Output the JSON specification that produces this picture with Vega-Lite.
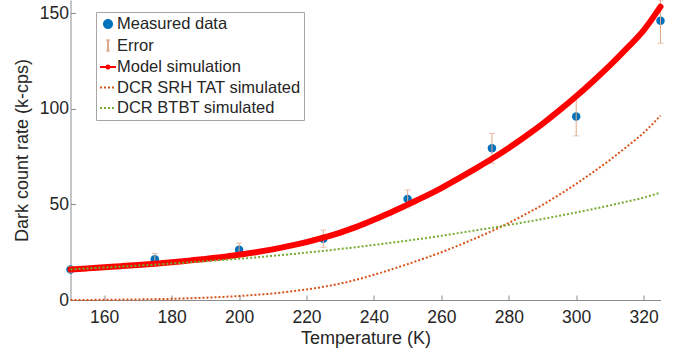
{
  "$schema": "https://vega.github.io/schema/vega-lite/v6.json",
  "width": 590,
  "height": 300,
  "autosize": {"type": "none"},
  "padding": {"left": 70.5, "top": 0, "right": 20.5, "bottom": 56},
  "background": "white",
  "config": {
    "view": {"stroke": null},
    "font": "Liberation Sans",
    "axis": {
      "domainColor": "#8c8c8c",
      "tickColor": "#8c8c8c",
      "labelColor": "#262626",
      "titleColor": "#262626",
      "labelFont": "Liberation Sans",
      "titleFont": "Liberation Sans",
      "labelFontSize": 17.5,
      "titleFontSize": 18,
      "titleFontWeight": "normal",
      "grid": false,
      "tickSize": -5,
      "domainWidth": 1,
      "tickWidth": 1
    }
  },
  "datasets": {
    "legendrows": [
      {"series": "Measured data"},
      {"series": "Error"},
      {"series": "Model simulation"},
      {"series": "DCR SRH TAT simulated"},
      {"series": "DCR BTBT simulated"}
    ],
    "measured": [
      {"T": 150, "value": 16.0, "lo": 14.5, "hi": 17.5},
      {"T": 175, "value": 21.3, "lo": 18.3, "hi": 24.3},
      {"T": 200, "value": 26.3, "lo": 22.8, "hi": 29.8},
      {"T": 225, "value": 32.1, "lo": 27.6, "hi": 36.6},
      {"T": 250, "value": 52.9, "lo": 48.2, "hi": 57.6},
      {"T": 275, "value": 79.4, "lo": 71.6, "hi": 87.2},
      {"T": 300, "value": 96.0, "lo": 85.9, "hi": 106.1},
      {"T": 325, "value": 146.2, "lo": 134.4, "hi": 157.0}
    ],
    "model": [
      {"T": 150, "value": 16.0}, {"T": 155, "value": 16.55}, {"T": 160, "value": 17.1},
      {"T": 165, "value": 17.7}, {"T": 170, "value": 18.3}, {"T": 175, "value": 18.95},
      {"T": 180, "value": 19.7}, {"T": 185, "value": 20.6}, {"T": 190, "value": 21.5},
      {"T": 195, "value": 22.5}, {"T": 200, "value": 23.7}, {"T": 205, "value": 25.0},
      {"T": 210, "value": 26.5}, {"T": 215, "value": 28.3}, {"T": 220, "value": 30.3},
      {"T": 225, "value": 32.6}, {"T": 230, "value": 35.3}, {"T": 235, "value": 38.4},
      {"T": 240, "value": 42.0}, {"T": 245, "value": 45.8}, {"T": 250, "value": 49.9},
      {"T": 255, "value": 54.1}, {"T": 260, "value": 58.6}, {"T": 265, "value": 63.5},
      {"T": 270, "value": 68.6}, {"T": 275, "value": 73.9}, {"T": 280, "value": 79.6},
      {"T": 285, "value": 85.7}, {"T": 290, "value": 92.2}, {"T": 295, "value": 99.2},
      {"T": 300, "value": 106.6}, {"T": 305, "value": 114.5}, {"T": 310, "value": 122.8},
      {"T": 315, "value": 131.7}, {"T": 320, "value": 141.1}, {"T": 325, "value": 153.5}
    ],
    "srh": [
      {"T": 150, "value": 0.0}, {"T": 155, "value": 0.05}, {"T": 160, "value": 0.1},
      {"T": 165, "value": 0.2}, {"T": 170, "value": 0.3}, {"T": 175, "value": 0.45},
      {"T": 180, "value": 0.6}, {"T": 185, "value": 0.9}, {"T": 190, "value": 1.2},
      {"T": 195, "value": 1.6}, {"T": 200, "value": 2.1}, {"T": 205, "value": 2.7},
      {"T": 210, "value": 3.4}, {"T": 215, "value": 4.4}, {"T": 220, "value": 5.5},
      {"T": 225, "value": 6.9}, {"T": 230, "value": 8.6}, {"T": 235, "value": 10.7},
      {"T": 240, "value": 13.2}, {"T": 245, "value": 15.9}, {"T": 250, "value": 18.8},
      {"T": 255, "value": 21.8}, {"T": 260, "value": 25.0}, {"T": 265, "value": 28.5},
      {"T": 270, "value": 32.2}, {"T": 275, "value": 36.1}, {"T": 280, "value": 40.3},
      {"T": 285, "value": 44.9}, {"T": 290, "value": 49.8}, {"T": 295, "value": 55.1},
      {"T": 300, "value": 60.8}, {"T": 305, "value": 66.9}, {"T": 310, "value": 73.3},
      {"T": 315, "value": 80.2}, {"T": 320, "value": 87.5}, {"T": 325, "value": 96.5}
    ],
    "btbt": [
      {"T": 150, "value": 16.0}, {"T": 155, "value": 16.5}, {"T": 160, "value": 17.0},
      {"T": 165, "value": 17.5}, {"T": 170, "value": 18.0}, {"T": 175, "value": 18.5},
      {"T": 180, "value": 19.1}, {"T": 185, "value": 19.7}, {"T": 190, "value": 20.3},
      {"T": 195, "value": 20.9}, {"T": 200, "value": 21.6}, {"T": 205, "value": 22.3},
      {"T": 210, "value": 23.1}, {"T": 215, "value": 23.9}, {"T": 220, "value": 24.8},
      {"T": 225, "value": 25.7}, {"T": 230, "value": 26.7}, {"T": 235, "value": 27.7},
      {"T": 240, "value": 28.8}, {"T": 245, "value": 29.9}, {"T": 250, "value": 31.1},
      {"T": 255, "value": 32.3}, {"T": 260, "value": 33.6}, {"T": 265, "value": 35.0},
      {"T": 270, "value": 36.4}, {"T": 275, "value": 37.8}, {"T": 280, "value": 39.3},
      {"T": 285, "value": 40.8}, {"T": 290, "value": 42.4}, {"T": 295, "value": 44.1},
      {"T": 300, "value": 45.8}, {"T": 305, "value": 47.6}, {"T": 310, "value": 49.5},
      {"T": 315, "value": 51.5}, {"T": 320, "value": 53.6}, {"T": 325, "value": 56.2}
    ]
  },
  "layer": [
    {
      "data": {"name": "measured"},
      "mark": {"type": "point", "filled": true, "size": 72, "opacity": 1, "color": "#0072BD"},
      "encoding": {
        "x": {
          "field": "T", "type": "quantitative",
          "scale": {"domain": [150, 325], "nice": false, "zero": false},
          "axis": {"values": [160, 180, 200, 220, 240, 260, 280, 300, 320], "title": "Temperature (K)", "labelPadding": 13, "titlePadding": 4}
        },
        "y": {
          "field": "value", "type": "quantitative",
          "scale": {"domain": [0, 157], "nice": false},
          "axis": {"values": [0, 50, 100, 150], "title": "Dark count rate (k-cps)", "labelPadding": 7, "titlePadding": 8}
        }
      }
    },
    {
      "data": {"name": "measured"},
      "mark": {"type": "errorbar", "color": "#DDA98C", "ticks": {"size": 6, "thickness": 1, "color": "#DDA98C"}, "rule": {"strokeWidth": 1, "color": "#DDA98C"}},
      "encoding": {
        "x": {"field": "T", "type": "quantitative"},
        "y": {"field": "lo", "type": "quantitative", "title": "Dark count rate (k-cps)"},
        "y2": {"field": "hi"}
      }
    },
    {
      "data": {"name": "model"},
      "mark": {"type": "line", "color": "#FF0000", "strokeWidth": 6, "strokeCap": "round", "interpolate": "monotone"},
      "encoding": {
        "x": {"field": "T", "type": "quantitative"},
        "y": {"field": "value", "type": "quantitative", "title": "Dark count rate (k-cps)"}
      }
    },
    {
      "data": {"name": "srh"},
      "mark": {"type": "line", "color": "#D95319", "strokeWidth": 2, "strokeDash": [2, 2], "interpolate": "monotone"},
      "encoding": {
        "x": {"field": "T", "type": "quantitative"},
        "y": {"field": "value", "type": "quantitative", "title": "Dark count rate (k-cps)"}
      }
    },
    {
      "data": {"name": "btbt"},
      "mark": {"type": "line", "color": "#77AC30", "strokeWidth": 2, "strokeDash": [2, 2], "interpolate": "monotone"},
      "encoding": {
        "x": {"field": "T", "type": "quantitative"},
        "y": {"field": "value", "type": "quantitative", "title": "Dark count rate (k-cps)"}
      }
    },
    {
      "data": {"name": "legendrows"},
      "mark": {"type": "point", "filled": false, "opacity": 0, "strokeWidth": 2},
      "encoding": {
        "color": {
          "field": "series", "type": "nominal",
          "scale": {
            "domain": ["Measured data", "Error", "Model simulation", "DCR SRH TAT simulated", "DCR BTBT simulated"],
            "range": ["#0072BD", "#DDA98C", "#FF0000", "#D95319", "#77AC30"]
          },
          "legend": {
            "title": null,
            "orient": "none",
            "legendX": 25.5,
            "legendY": 12,
            "padding": 3,
            "rowPadding": 2.5,
            "symbolSize": 256,
            "symbolOpacity": 1,
            "symbolStrokeWidth": 2,
            "labelOffset": 0,
            "labelFontSize": 16.5,
            "labelFont": "Liberation Sans",
            "labelColor": "#262626",
            "labelLimit": 400,
            "strokeColor": "#a6a6a6",
            "fillColor": "white"
          }
        },
        "shape": {
          "field": "series", "type": "nominal",
          "scale": {
            "domain": ["Measured data", "Error", "Model simulation", "DCR SRH TAT simulated", "DCR BTBT simulated"],
            "range": [
              "M0.5,0A0.5,0.5,0,1,1,-0.5,0A0.5,0.5,0,1,1,0.5,0M0.36,0A0.36,0.36,0,1,1,-0.36,0A0.36,0.36,0,1,1,0.36,0M0.22,0A0.22,0.22,0,1,1,-0.22,0A0.22,0.22,0,1,1,0.22,0M0.08,0A0.08,0.08,0,1,1,-0.08,0A0.08,0.08,0,1,1,0.08,0",
              "M0,-0.65L0,0.65M-0.2,-0.65L0.2,-0.65M-0.2,0.65L0.2,0.65",
              "M-1,0L1,0M0.2,0A0.2,0.2,0,1,1,-0.2,0A0.2,0.2,0,1,1,0.2,0M0.07,0A0.07,0.07,0,1,1,-0.07,0A0.07,0.07,0,1,1,0.07,0",
              "M-1,0L1,0",
              "M-1,0L1,0"
            ]
          },
          "legend": {"title": null}
        },
        "strokeDash": {
          "field": "series", "type": "nominal",
          "scale": {
            "domain": ["Measured data", "Error", "Model simulation", "DCR SRH TAT simulated", "DCR BTBT simulated"],
            "range": [[1, 0], [1, 0], [1, 0], [2, 2], [2, 2]]
          },
          "legend": {"title": null}
        }
      }
    }
  ]
}
